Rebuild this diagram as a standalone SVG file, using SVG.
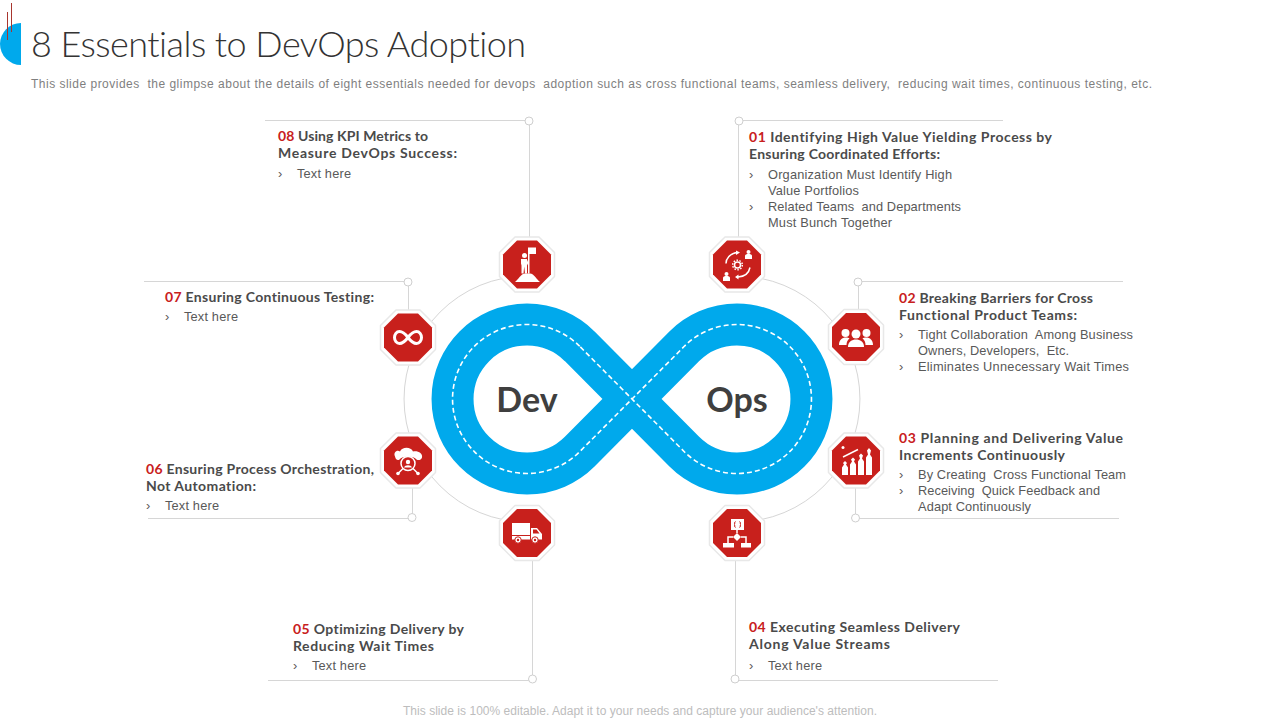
<svg xmlns="http://www.w3.org/2000/svg" width="1280" height="720" viewBox="0 0 1280 720">
<style>
text{font-family:"Liberation Sans",Arial,sans-serif;white-space:pre;font-variant-ligatures:none}
.title{font-family:"Lato","Liberation Sans",sans-serif;font-size:36px;font-weight:300;fill:#333}
.sub{font-size:12px;fill:#7f7f7f}
.foot{font-size:12px;fill:#bdbdbd}
.h{font-family:"Lato","Liberation Sans",sans-serif;font-size:14px;font-weight:700;fill:#4a4a4a}
.n{fill:#c8201c}
.b{font-size:12.8px;fill:#595959}
.big{font-family:"Lato","Liberation Sans",sans-serif;font-size:34px;font-weight:700;fill:#3f3f3f;text-anchor:middle}
.l{fill:none;stroke:#d6d6d6;stroke-width:1}
.dot{fill:#fff;stroke:#cfcfcf;stroke-width:1}
.halo{fill:#fff;stroke:#e8e8e8;stroke-width:1.5;stroke-linejoin:round}
.oct{fill:#c8201c}
.w{fill:#fff}
.ws{fill:none;stroke:#fff;stroke-width:1.5}
</style>
<defs>
<g id="octagon">
<polygon class="halo" points="-12,-27.5 12,-27.5 27.5,-12 27.5,12 12,27.5 -12,27.5 -27.5,12 -27.5,-12"/>
<polygon class="oct" points="-10,-24 10,-24 24,-10 24,10 10,24 -10,24 -24,10 -24,-10"/>
</g>
</defs>
<g id="header">
<path d="M21,23A21,21 0 0 0 21,65Z" fill="#00a9ec"/>
<path d="M7.500,12V40M11.500,3V32" stroke="#a8362e" stroke-width="1" fill="none"/>
<text class="title" x="31" y="57" textLength="495">8 Essentials to DevOps Adoption</text>
<text class="sub" x="31" y="88" textLength="1121">This slide provides  the glimpse about the details of eight essentials needed for devops  adoption such as cross functional teams, seamless delivery,  reducing wait times, continuous testing, etc.</text>
</g>
<g id="connectors">
<path class="l" d="M527,276A123,123 0 0 0 527,522"/>
<path class="l" d="M737,276A123,123 0 0 1 737,522"/>
<path class="l" d="M265,120.500H529.500V240"/>
<path class="l" d="M1003,120.500H738.500V240"/>
<path class="l" d="M1123,281.500H858.500V315"/>
<path class="l" d="M1119,518.500H855.500V485"/>
<path class="l" d="M998,680.500H735.500V558"/>
<path class="l" d="M268,680.500H532.500V558"/>
<path class="l" d="M148,518.500H412.500V485"/>
<path class="l" d="M144,281.500H408.500V315"/>
<circle class="dot" cx="529" cy="121" r="4"/>
<circle class="dot" cx="739" cy="121" r="4"/>
<circle class="dot" cx="858" cy="282" r="4"/>
<circle class="dot" cx="855.500" cy="518" r="4"/>
<circle class="dot" cx="735" cy="679" r="4"/>
<circle class="dot" cx="532.500" cy="679" r="4"/>
<circle class="dot" cx="412" cy="517.500" r="4"/>
<circle class="dot" cx="408" cy="282" r="4"/>
</g>
<g id="infinity">
<path d="M579.700,346.300A74.500,74.500 0 1 0 579.700,451.700L684.300,346.300A74.500,74.500 0 1 1 684.300,451.700Z" fill="none" stroke="#00a9ec" stroke-width="42" stroke-linejoin="round"/>
<path d="M579.700,346.300A74.500,74.500 0 1 0 579.700,451.700L684.300,346.300A74.500,74.500 0 1 1 684.300,451.700Z" fill="none" stroke="#fff" stroke-width="1.600" stroke-dasharray="5 3"/>
<text class="big" x="527" y="412">Dev</text>
<text class="big" x="737" y="412">Ops</text>
</g>
<g id="node-08" transform="translate(527,264.500)">
<use href="#octagon"/>
<circle class="w" cx="-2.500" cy="-9" r="2.500"/>
<path class="w" d="M-6,-5.500H0V-2.500L1,-5V-17H9V-10.500H2.500V9H1V-1L0,1V9H-2L-2.800,2L-3.500,9H-5.500V1L-6,-1Z"/>
<path class="w" d="M-12,17.500C-9,15.500 -6,9 -2,9H3C7,9 10,15.500 13,17.500Z"/>
</g>
<g id="node-01" transform="translate(737,264.500)">
<use href="#octagon"/>
<circle class="w" cx="11.500" cy="-12.500" r="2"/>
<path class="w" d="M8,-5.500V-8.500C8,-10 9.500,-10.500 11.500,-10.500C13.500,-10.500 15,-10 15,-8.500V-5.500Z"/>
<circle class="w" cx="-10.500" cy="9.500" r="2"/>
<path class="w" d="M-14,16.500V13.500C-14,12 -12.500,11.500 -10.500,11.500C-8.500,11.500 -7,12 -7,13.500V16.500Z"/>
<circle class="ws" cx="0.500" cy="0.500" r="3" stroke-width="2.500"/>
<circle class="ws" cx="0.500" cy="0.500" r="4.800" stroke-dasharray="1.500 1.500" stroke-width="1"/>
<path class="ws" d="M-11,-1C-11,-6 -7,-11 0,-12M13,3C12,8 8,12 1,12.500" stroke-width="1.200"/>
<path class="w" d="M-1,-14L3,-12L-1,-9.500ZM1.500,10L-2,12.500L1.500,15Z"/>
</g>
<g id="node-07" transform="translate(408,337.500)">
<use href="#octagon"/>
<path d="M0,0C-3,-4 -6,-6 -8.500,-6C-11.500,-6 -13.500,-3 -13.500,0C-13.500,3 -11.500,6 -8.500,6C-6,6 -3,4 0,0C3,-4 6,-6 8.500,-6C11.500,-6 13.500,-3 13.500,0C13.500,3 11.500,6 8.500,6C6,6 3,4 0,0Z" fill="none" stroke="#fff" stroke-width="3"/>
</g>
<g id="node-02" transform="translate(856,337)">
<use href="#octagon"/>
<circle class="w" cx="-10.500" cy="-4" r="4"/>
<circle class="w" cx="0" cy="-3" r="4.500"/>
<circle class="w" cx="10.500" cy="-4" r="4"/>
<path class="w" d="M-17,8C-17,3 -14,0.500 -10,0.500C-8.500,0.500 -7.500,0.500 -6.500,1.500C-8.500,3 -9.500,5 -9.500,8ZM17,8C17,3 14,0.500 10,0.500C8.500,0.500 7.500,0.500 6.500,1.500C8.500,3 9.500,5 9.500,8Z"/>
<path class="w" d="M-8,10C-8,4.500 -4,2.500 0,2.500C4,2.500 8,4.500 8,10Z"/>
</g>
<g id="node-06" transform="translate(408,460.500)">
<use href="#octagon"/>
<path class="w" d="M-13,-4C-15,-8 -11,-11 -8,-9C-6,-14 3,-14 5,-9C10,-10 15,-7 14,-3C13,0 10,0 8.500,-1C6,-5 -6,-5 -8.500,-1C-10,0 -12,0 -13,-4Z"/>
<circle class="ws" cx="0" cy="3" r="7" stroke-width="2"/>
<circle class="w" cx="0" cy="1.500" r="2.200"/>
<path class="w" d="M-4,7C-3,4 3,4 4,7Z"/>
<path class="ws" d="M-5,8L-10,13M5,8L10,13"/>
<circle class="w" cx="-10" cy="13" r="1.800"/>
<circle class="w" cx="10" cy="13" r="1.800"/>
</g>
<g id="node-03" transform="translate(856,460.500)">
<use href="#octagon"/>
<circle class="w" cx="-13" cy="-13" r="1.500"/>
<path class="ws" d="M-13,-3.500L2,-11" stroke-width="2"/>
<path class="w" d="M-11,0.500L-9,2.500L-10,4L-8,7V14.500H-14V7L-12,4L-13,2.500Z"/>
<path class="w" d="M-3,-3L-1,-1L-2,1L0,4V14.500H-6V4L-4,1L-5,-1Z"/>
<path class="w" d="M5,-7L7,-5L6,-2L8,1V14.500H2V1L4,-2L3,-5Z"/>
<path class="w" d="M13,-12.500L15,-10L14,-6L16,-3V14.500H10V-3L12,-6L11,-10Z"/>
</g>
<g id="node-05" transform="translate(527,533)">
<use href="#octagon"/>
<rect class="w" x="-15" y="-10" width="18" height="12"/>
<rect class="w" x="-15" y="3" width="18" height="3.500"/>
<path class="w" d="M4,-5H10L15,1V6.500H4ZM6,-3.500V0.500H12.500L9.500,-3.500Z"/>
<circle cx="-9" cy="7" r="3.200" fill="#fff" stroke="#c8201c" stroke-width="1"/>
<circle cx="8" cy="7" r="3.200" fill="#fff" stroke="#c8201c" stroke-width="1"/>
<circle class="oct" cx="-9" cy="7" r="1.200"/>
<circle class="oct" cx="8" cy="7" r="1.200"/>
</g>
<g id="node-04" transform="translate(737,533)">
<use href="#octagon"/>
<rect class="w" x="-6" y="-14" width="13" height="11"/>
<path d="M-1.500,-11.500C-3,-11.500 -1.500,-8.500 -3,-8.500C-1.500,-8.500 -3,-5.500 -1.500,-5.500M2.500,-11.500C4,-11.500 2.500,-8.500 4,-8.500C2.500,-8.500 4,-5.500 2.500,-5.500" fill="none" stroke="#c8201c" stroke-width="1"/>
<path class="w" d="M0,0L4,4L0,8L-4,4Z"/>
<path class="ws" d="M0,-3V0M-4,4H-9V10M4,4H9V10" stroke-width="1"/>
<rect class="w" x="-14" y="10" width="11" height="4.500"/>
<rect class="w" x="4" y="10" width="10" height="4.500"/>
</g>
<g id="label-08">
<text class="h" x="278" y="141" textLength="150"><tspan class="n">08</tspan> Using KPI Metrics to</text>
<text class="h" x="278" y="158" textLength="179">Measure DevOps Success:</text>
<text class="b" x="278" y="178">›</text><text class="b" x="297" y="178" textLength="54">Text here</text>
</g>
<g id="label-01">
<text class="h" x="749" y="142" textLength="303"><tspan class="n">01</tspan> Identifying High Value Yielding Process by</text>
<text class="h" x="749" y="159" textLength="191">Ensuring Coordinated Efforts:</text>
<text class="b" x="749" y="179">›</text><text class="b" x="768" y="179" textLength="184">Organization Must Identify High</text>
<text class="b" x="768" y="195" textLength="91">Value Portfolios</text>
<text class="b" x="749" y="211">›</text><text class="b" x="768" y="211" textLength="193">Related Teams  and Departments</text>
<text class="b" x="768" y="227" textLength="124">Must Bunch Together</text>
</g>
<g id="label-02">
<text class="h" x="899" y="303" textLength="194"><tspan class="n">02</tspan> Breaking Barriers for Cross</text>
<text class="h" x="899" y="320" textLength="178">Functional Product Teams:</text>
<text class="b" x="899" y="339">›</text><text class="b" x="918" y="339" textLength="215">Tight Collaboration  Among Business</text>
<text class="b" x="918" y="355" textLength="151">Owners, Developers,  Etc.</text>
<text class="b" x="899" y="371">›</text><text class="b" x="918" y="371" textLength="211">Eliminates Unnecessary Wait Times</text>
</g>
<g id="label-03">
<text class="h" x="899" y="443" textLength="224"><tspan class="n">03</tspan> Planning and Delivering Value</text>
<text class="h" x="899" y="460" textLength="166">Increments Continuously</text>
<text class="b" x="899" y="479">›</text><text class="b" x="918" y="479" textLength="208">By Creating  Cross Functional Team</text>
<text class="b" x="899" y="495">›</text><text class="b" x="918" y="495" textLength="182">Receiving  Quick Feedback and</text>
<text class="b" x="918" y="511" textLength="113">Adapt Continuously</text>
</g>
<g id="label-04">
<text class="h" x="749" y="632" textLength="211"><tspan class="n">04</tspan> Executing Seamless Delivery</text>
<text class="h" x="749" y="649" textLength="141">Along Value Streams</text>
<text class="b" x="749" y="670">›</text><text class="b" x="768" y="670" textLength="54">Text here</text>
</g>
<g id="label-05">
<text class="h" x="293" y="634" textLength="171"><tspan class="n">05</tspan> Optimizing Delivery by</text>
<text class="h" x="293" y="651" textLength="141">Reducing Wait Times</text>
<text class="b" x="293" y="670">›</text><text class="b" x="312" y="670" textLength="54">Text here</text>
</g>
<g id="label-06">
<text class="h" x="146" y="474" textLength="228"><tspan class="n">06</tspan> Ensuring Process Orchestration,</text>
<text class="h" x="146" y="491" textLength="110">Not Automation:</text>
<text class="b" x="146" y="510">›</text><text class="b" x="165" y="510" textLength="54">Text here</text>
</g>
<g id="label-07">
<text class="h" x="165" y="302" textLength="209"><tspan class="n">07</tspan> Ensuring Continuous Testing:</text>
<text class="b" x="165" y="321">›</text><text class="b" x="184" y="321" textLength="54">Text here</text>
</g>
<text class="foot" x="403" y="715" textLength="474">This slide is 100% editable. Adapt it to your needs and capture your audience's attention.</text>
</svg>
